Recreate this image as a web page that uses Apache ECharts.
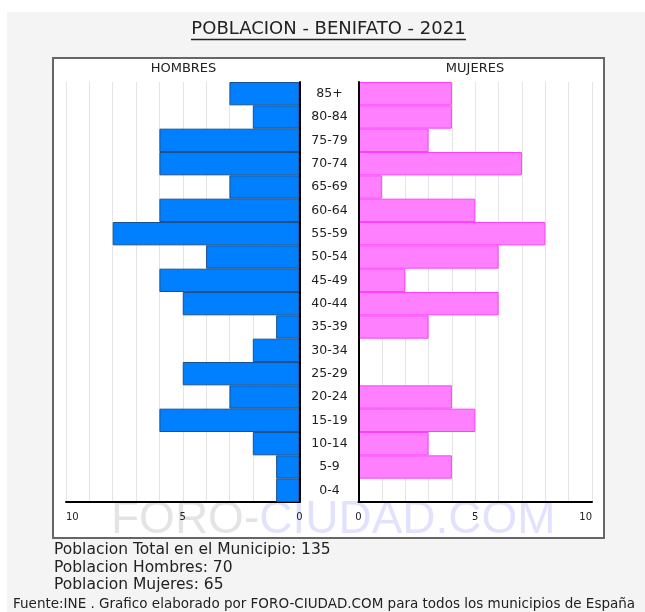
<!DOCTYPE html>
<html>
<head>
<meta charset="utf-8">
<script src="https://cdn.jsdelivr.net/npm/echarts@6/dist/echarts.min.js"></script>
<style>
  html, body { margin: 0; padding: 0; background: #fff; }
  #chart { width: 645px; height: 612px; }
</style>
</head>
<body>
<div id="chart"></div>
<script>
  // grupos de edad, de arriba abajo
  const ages = ['85+', '80-84', '75-79', '70-74', '65-69', '60-64', '55-59', '50-54', '45-49',
    '40-44', '35-39', '30-34', '25-29', '20-24', '15-19', '10-14', '5-9', '0-4'];
  const hombres = [3, 2, 6, 6, 3, 6, 8, 4, 6, 5, 1, 2, 5, 3, 6, 2, 1, 1];
  const mujeres = [4, 4, 3, 7, 1, 5, 8, 6, 2, 6, 3, 0, 0, 4, 5, 3, 4, 0];
  const axisMax = 10;
  const totalText = ['Poblacion Total en el Municipio: 135', 'Poblacion Hombres: 70', 'Poblacion Mujeres: 65'];

  const font = 'DejaVu Sans';
  const chart = echarts.init(document.getElementById('chart'));

  const valueAxis = (gridIndex, inverse, align) => ({
    type: 'value',
    gridIndex: gridIndex,
    min: 0,
    max: axisMax,
    interval: 1,
    inverse: inverse,
    axisLine: { show: true, lineStyle: { color: '#000', width: 2 } },
    axisTick: { show: false },
    splitLine: { show: true, lineStyle: { color: '#e4e4e4', width: 1 } },
    axisLabel: {
      fontFamily: font,
      fontSize: 10,
      color: '#222',
      margin: 10,
      alignMaxLabel: align,
      formatter: v => (v % 5 === 0 ? String(v) : '')
    }
  });

  chart.setOption({
    animation: false,
    grid: [
      { left: 66, right: 345.5, top: 82, bottom: 110 },
      { left: 358.5, right: 53, top: 82, bottom: 110 }
    ],
    xAxis: [valueAxis(0, true, 'left'), valueAxis(1, false, 'right')],
    yAxis: [
      {
        type: 'category', gridIndex: 0, inverse: true, data: ages, position: 'right', z: 5,
        axisLine: { show: true, onZero: false, lineStyle: { color: '#000', width: 2 } },
        axisTick: { show: false },
        axisLabel: { fontFamily: font, fontSize: 12.5, color: '#222', align: 'center', margin: 30 }
      },
      {
        type: 'category', gridIndex: 1, inverse: true, data: ages, position: 'left', z: 5,
        axisLine: { show: true, onZero: false, lineStyle: { color: '#000', width: 2 } },
        axisTick: { show: false },
        axisLabel: { show: false }
      }
    ],
    series: [
      {
        name: 'Hombres', type: 'bar', xAxisIndex: 0, yAxisIndex: 0, data: hombres,
        barCategoryGap: '0%',
        itemStyle: { color: '#0080ff', borderColor: '#1d4f8a', borderWidth: 1 }
      },
      {
        name: 'Mujeres', type: 'bar', xAxisIndex: 1, yAxisIndex: 1, data: mujeres,
        barCategoryGap: '0%',
        itemStyle: { color: '#ff80ff', borderColor: '#ff40ff', borderWidth: 1 }
      }
    ],
    graphic: [
      // fondo gris y marco
      { type: 'rect', z: -100, shape: { x: 7, y: 12, width: 640, height: 600 }, style: { fill: '#f4f4f4' } },
      { type: 'rect', z: -90, shape: { x: 53, y: 58, width: 551, height: 480 },
        style: { fill: '#fff', stroke: '#666', lineWidth: 2 } },
      // marca de agua
      { type: 'text', z: -80, x: 111, y: 520,
        style: {
          text: '{a|FORO-}{b|CIUDAD.COM}',
          verticalAlign: 'middle',
          rich: {
            a: { fontFamily: 'Liberation Sans', fontSize: 46, fill: '#e4e4e4' },
            b: { fontFamily: 'Liberation Sans', fontSize: 46, fill: '#e2e2ff' }
          }
        } },
      // titulo
      { type: 'text', x: 328.5, y: 29,
        style: { text: 'POBLACION - BENIFATO - 2021', font: '18px "DejaVu Sans"', fill: '#222',
          textAlign: 'center', textVerticalAlign: 'middle' } },
      { type: 'line', shape: { x1: 191, y1: 39.5, x2: 466, y2: 39.5 }, style: { stroke: '#222', lineWidth: 1.5 } },
      { type: 'text', x: 183.5, y: 69,
        style: { text: 'HOMBRES', font: '13px "DejaVu Sans"', fill: '#222', textAlign: 'center', textVerticalAlign: 'middle' } },
      { type: 'text', x: 475, y: 69,
        style: { text: 'MUJERES', font: '13px "DejaVu Sans"', fill: '#222', textAlign: 'center', textVerticalAlign: 'middle' } },
      // totales
      { type: 'text', x: 54, y: 550,
        style: { text: totalText[0], font: '15.5px "DejaVu Sans"', fill: '#222', textVerticalAlign: 'middle' } },
      { type: 'text', x: 54, y: 567.5,
        style: { text: totalText[1], font: '15.5px "DejaVu Sans"', fill: '#222', textVerticalAlign: 'middle' } },
      { type: 'text', x: 54, y: 585,
        style: { text: totalText[2], font: '15.5px "DejaVu Sans"', fill: '#222', textVerticalAlign: 'middle' } },
      { type: 'text', x: 13, y: 604,
        style: { text: 'Fuente:INE . Grafico elaborado por FORO-CIUDAD.COM para todos los municipios de España',
          font: '13.5px "DejaVu Sans"', fill: '#222', textVerticalAlign: 'middle' } }
    ]
  });

  window.onresize = function () {
    chart.resize()
  }
</script>
</body>
</html>
